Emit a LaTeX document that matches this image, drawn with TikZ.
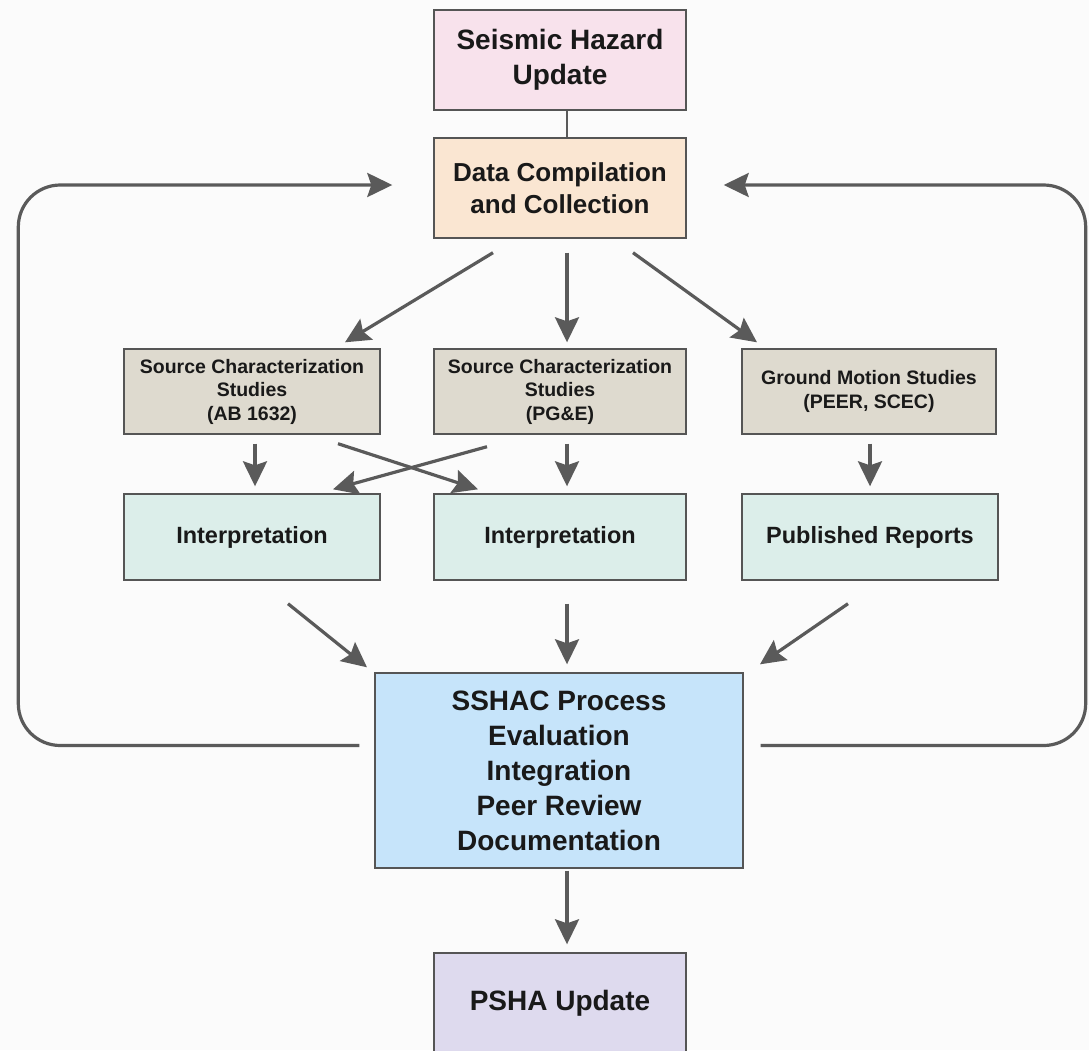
\documentclass[tikz,border=0pt]{standalone}
\usepackage{fontspec}
\setmainfont{Liberation Sans}
\usetikzlibrary{arrows.meta,calc}
\definecolor{bgc}{RGB}{251,251,251}
\definecolor{pinkc}{RGB}{248,226,236}
\definecolor{peachc}{RGB}{250,230,210}
\definecolor{tanc}{RGB}{222,218,207}
\definecolor{mintc}{RGB}{220,238,234}
\definecolor{bluec}{RGB}{198,228,250}
\definecolor{lavc}{RGB}{222,218,238}
\definecolor{bordc}{RGB}{85,85,85}
\definecolor{arrc}{RGB}{90,90,90}
\definecolor{txtc}{RGB}{25,25,25}
\begin{document}
\begin{tikzpicture}[x=1pt,y=-1pt,
  box/.style={draw=bordc, line width=1.4pt, inner sep=0pt, align=center, text=txtc},
  big/.style={font=\fontsize{28}{35}\selectfont\bfseries},
  mid/.style={font=\fontsize{23.5}{28}\selectfont\bfseries},
  small/.style={font=\fontsize{19.5}{23.5}\selectfont\bfseries},
  arr/.style={draw=arrc, line width=3.2pt, -{Stealth[length=25pt,width=24pt,inset=4pt]}},
  plainline/.style={draw=arrc, line width=2.8pt}]
\useasboundingbox[fill=bgc] (0,0) rectangle (1089,1050);

\node[box,big,fill=pinkc,minimum width=252pt,minimum height=100pt] (sh) at (560,60) {Seismic Hazard\\Update};
\node[box,font=\fontsize{26}{32}\selectfont\bfseries,fill=peachc,minimum width=252pt,minimum height=100pt] (dc) at (560,188) {Data Compilation\\and Collection};

\node[box,small,fill=tanc,minimum width=256pt,minimum height=85pt] (ab) at (252,391.5) {Source Characterization\\Studies\\(AB 1632)};
\node[box,small,fill=tanc,minimum width=252pt,minimum height=85pt] (pg) at (560,391.5) {Source Characterization\\Studies\\(PG\&E)};
\node[box,small,fill=tanc,minimum width=254pt,minimum height=85pt] (gm) at (869,391.5) {Ground Motion Studies\\(PEER, SCEC)};

\node[box,mid,fill=mintc,minimum width=256pt,minimum height=86pt] (i1) at (252,537) {Interpretation};
\node[box,mid,fill=mintc,minimum width=252pt,minimum height=86pt] (i2) at (560,537) {Interpretation};
\node[box,mid,fill=mintc,minimum width=256pt,minimum height=86pt] (pr) at (870,537) {Published Reports};

\node[box,big,fill=bluec,minimum width=368pt,minimum height=195pt] (ss) at (559,770.5) {SSHAC Process\\Evaluation\\Integration\\Peer Review\\Documentation};
\node[box,big,fill=lavc,minimum width=252pt,minimum height=100pt] (ps) at (560,1003) {PSHA Update};

% connectors
\draw[plainline] ($(sh.south)+(7,0)$) -- ($(dc.north)+(7,0)$);

\draw[arr] ($(dc.south)+(-67,14)$) -- ($(ab.north)+(93,-6)$);
\draw[arr] ($(dc.south)+(7,14)$) -- ($(pg.north)+(7,-6)$);
\draw[arr] ($(dc.south)+(73,14)$) -- ($(gm.north)+(-112,-6)$);

\draw[arr] ($(ab.south)+(3,9)$) -- ($(ab.south |- i1.north)+(3,-7)$);
\draw[arr] ($(pg.south)+(7,9)$) -- ($(i2.north)+(7,-7)$);
\draw[arr] ($(gm.south)+(1,9)$) -- ($(pr.north)+(0,-7)$);
\draw[arr] ($(ab.south)+(86,9)$) -- ($(i2.north)+(-82,-4)$);
\draw[arr] ($(pg.south)+(-73,12)$) -- ($(i1.north)+(81,-4)$);

\draw[arr] ($(i1.south)+(36,23)$) -- ($(ss.north)+(-192,-5)$);
\draw[arr] ($(i2.south)+(7,23)$) -- ($(ss.north)+(8,-8)$);
\draw[arr] ($(pr.south)+(-22,23)$) -- ($(ss.north)+(201,-8)$);

\draw[arr] ($(ss.south)+(8,2)$) -- ($(ps.north)+(7,-8)$);

% feedback loops
\draw[arr, rounded corners=42pt] ($(ss.west)+(-15,-25)$) -| ($(dc.west)+(-415,-3)$) -- ($(dc.west)+(-41,-3)$);
\draw[arr, rounded corners=42pt] ($(ss.east)+(17,-25)$) -| ($(dc.east)+(399,-3)$) -- ($(dc.east)+(37,-3)$);
\end{tikzpicture}
\end{document}
